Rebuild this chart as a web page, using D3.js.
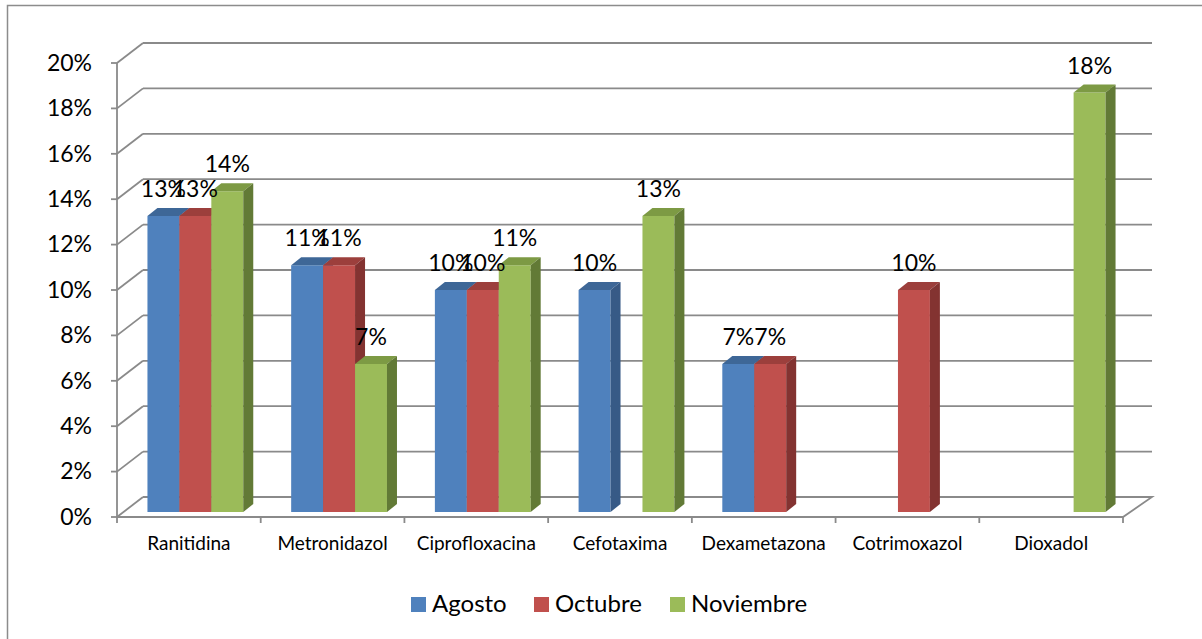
<!DOCTYPE html>
<html>
<head>
<meta charset="utf-8">
<script src="https://cdn.jsdelivr.net/npm/d3@7"></script>
<style>
  body { margin: 0; background: #fff; }
  svg { display: block; font-family: Lato, "Liberation Sans", sans-serif; }
</style>
</head>
<body>
<svg id="chart" width="1202" height="639"></svg>
<script>
// chart data
var categories = ["Ranitidina", "Metronidazol", "Ciprofloxacina", "Cefotaxima", "Dexametazona", "Cotrimoxazol", "Dioxadol"];
var seriesNames = ["Agosto", "Octubre", "Noviembre"];
var agosto    = [13.04, 10.87, 9.78, 9.78, 6.52, null, null];
var octubre   = [13.04, 10.87, 9.78, null, 6.52, 9.78, null];
var noviembre = [14.13, 6.52, 10.87, 13.04, null, null, 18.48];
var yTicks = [0, 2, 4, 6, 8, 10, 12, 14, 16, 18, 20];

var seriesValues = [agosto, octubre, noviembre];
var frontCol = ["#4f81bd", "#c0504d", "#9bbb59"];
var topCol   = ["#3e6797", "#9c3f3c", "#7d9a44"];
var sideCol  = ["#375a86", "#833331", "#627a36"];

var svg = d3.select("#chart");

// front plane of the 3d box
var x = d3.scaleBand().domain(categories).range([117, 1123]);
var y = d3.scaleLinear().domain([0, 20]).range([517, 63]);
var wallDx = 26, wallDy = -20;       // depth of walls
var barOffX = 6.5, barOffY = -5;     // bars sit a bit behind the front
var barDx = 10, barDy = -8;          // bar depth
var s = d3.scaleBand().domain(seriesNames).range([0, x.bandwidth()])
  .paddingInner(0).paddingOuter(0.75);

var grid = "#8a8a8a";

// outer border
svg.append("rect")
  .attr("x", 7.5).attr("y", 5.5)
  .attr("width", 1300).attr("height", 700)
  .attr("fill", "none").attr("stroke", "#8c8c8c").attr("stroke-width", 1.5);

// back wall gridlines + side wall lines + ticks
var g = svg.append("g").attr("fill", "none").attr("stroke", grid).attr("stroke-width", 1.8);
yTicks.forEach(function (t) {
  var yy = y(t);
  if (t > 0) {
    g.append("line")
      .attr("x1", 117 + wallDx).attr("y1", yy + wallDy)
      .attr("x2", 1123 + wallDx + 3).attr("y2", yy + wallDy);
  }
  g.append("line")
    .attr("x1", 117).attr("y1", yy)
    .attr("x2", 117 + wallDx).attr("y2", yy + wallDy);
  g.append("line")
    .attr("x1", 111).attr("y1", yy)
    .attr("x2", 117).attr("y2", yy);
});

// floor
g.append("path")
  .attr("d", "M" + 117 + "," + y(0) + "L" + 1123 + "," + y(0) +
    "L" + (1123 + wallDx + 3) + "," + (y(0) + wallDy) +
    "L" + (117 + wallDx) + "," + (y(0) + wallDy));
// front vertical axis
g.append("line")
  .attr("x1", 117).attr("y1", y(20))
  .attr("x2", 117).attr("y2", y(0) + 1);
// category ticks
categories.concat(["_end"]).forEach(function (c, i) {
  var xx = i < categories.length ? x(c) : x.range()[1];
  g.append("line")
    .attr("x1", xx).attr("y1", y(0))
    .attr("x2", xx).attr("y2", y(0) + 6);
});

// y labels
svg.append("g").selectAll("text")
  .data(yTicks).enter().append("text")
  .attr("x", 92)
  .attr("y", function (d) { return y(d) + 2; })
  .attr("text-anchor", "end")
  .attr("dominant-baseline", "middle")
  .attr("font-size", 23)
  .attr("fill", "#000")
  .text(function (d) { return d + "%"; });

// bars
var bars = [];
categories.forEach(function (c, ci) {
  seriesNames.forEach(function (sn, si) {
    var v = seriesValues[si][ci];
    if (v == null) return;
    bars.push({ cat: c, ser: sn, si: si, v: v });
  });
});

var barG = svg.append("g");
bars.forEach(function (b) {
  var x0 = x(b.cat) + barOffX + s(b.ser);
  var w = s.bandwidth();
  var yb = y(0) + barOffY;
  var yt = y(b.v) + barOffY;
  var bg = barG.append("g");
  bg.append("rect")
    .attr("x", x0).attr("y", yt)
    .attr("width", w).attr("height", yb - yt)
    .attr("fill", frontCol[b.si]);
  bg.append("path")
    .attr("d", "M" + x0 + "," + yt + "L" + (x0 + barDx) + "," + (yt + barDy) +
      "L" + (x0 + w + barDx) + "," + (yt + barDy) + "L" + (x0 + w) + "," + yt + "Z")
    .attr("fill", topCol[b.si]);
  bg.append("path")
    .attr("d", "M" + (x0 + w) + "," + yt + "L" + (x0 + w + barDx) + "," + (yt + barDy) +
      "L" + (x0 + w + barDx) + "," + (yb + barDy) + "L" + (x0 + w) + "," + yb + "Z")
    .attr("fill", sideCol[b.si]);
});

// data labels
svg.append("g").selectAll("text")
  .data(bars).enter().append("text")
  .attr("x", function (b) { return x(b.cat) + barOffX + s(b.ser) + s.bandwidth() / 2; })
  .attr("y", function (b) { return y(b.v) + barOffY - 19; })
  .attr("text-anchor", "middle")
  .attr("font-size", 23)
  .attr("fill", "#000")
  .text(function (b) { return d3.format(".0f")(b.v) + "%"; });

// category labels
svg.append("g").selectAll("text")
  .data(categories).enter().append("text")
  .attr("x", function (c) { return x(c) + x.bandwidth() / 2; })
  .attr("y", 550)
  .attr("text-anchor", "middle")
  .attr("font-size", 19)
  .attr("fill", "#000")
  .text(function (c) { return c; });

// legend
var legendX = [411, 534, 670];
var leg = svg.append("g");
seriesNames.forEach(function (sn, i) {
  leg.append("rect")
    .attr("x", legendX[i]).attr("y", 597)
    .attr("width", 15).attr("height", 15)
    .attr("fill", frontCol[i]);
  leg.append("text")
    .attr("x", legendX[i] + 21).attr("y", 612)
    .attr("font-size", 24)
    .attr("fill", "#000")
    .text(sn);
});
</script>
</body>
</html>
